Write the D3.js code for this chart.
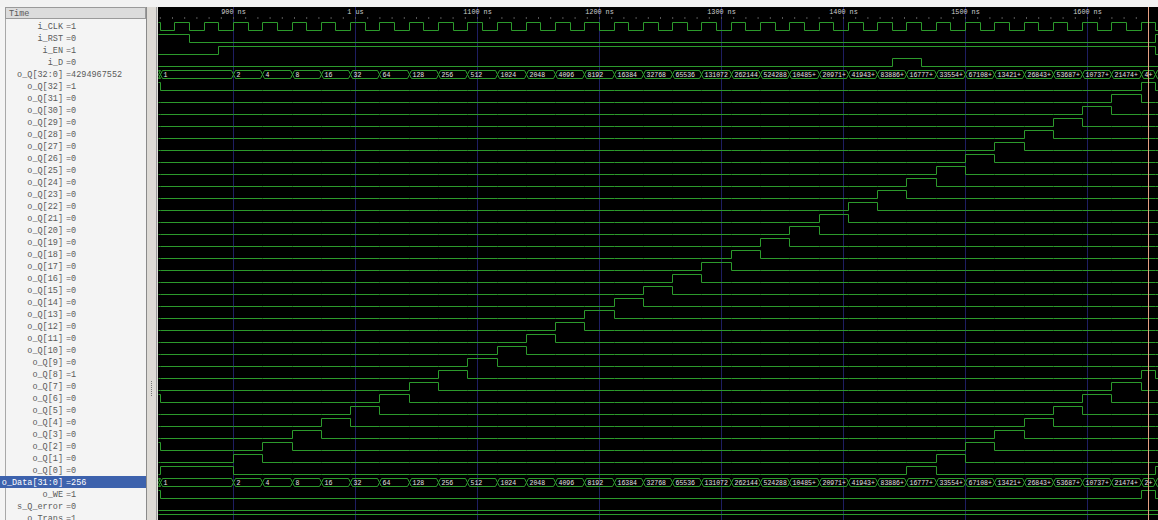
<!DOCTYPE html>
<html>
<head>
<meta charset="utf-8">
<script src="https://cdn.jsdelivr.net/npm/d3@7"></script>
<style>
  html, body { margin: 0; padding: 0; background: #fff; overflow: hidden; }
  .lbl { font-family: 'Liberation Mono', monospace; font-size: 8.5px; fill: #5a5a5a; }
  .bus { font-family: 'Liberation Mono', monospace; font-size: 6.5px; fill: #e4e4e4; }
  .axis text { font-family: 'Liberation Mono', monospace; font-size: 6.8px; fill: #cfcfcf; }
</style>
</head>
<body>
<div class="chart"></div>
<script>
// ---- data (times in ns) ----
var majorTicks = [900, 1000, 1100, 1200, 1300, 1400, 1500, 1600];
var tickLabels = ['900 ns', '1 us', '1100 ns', '1200 ns', '1300 ns', '1400 ns', '1500 ns', '1600 ns'];

var clkInit = 1;
var clkToggles = [840, 852, 864, 876, 888, 900, 912, 924, 936, 948, 960, 972, 984, 996, 1008, 1020,
  1032, 1044, 1056, 1068, 1080, 1092, 1104, 1116, 1128, 1140, 1152, 1164, 1176, 1188, 1200, 1212,
  1224, 1236, 1248, 1260, 1272, 1284, 1296, 1308, 1320, 1332, 1344, 1356, 1368, 1380, 1392, 1404,
  1416, 1428, 1440, 1452, 1464, 1476, 1488, 1500, 1512, 1524, 1536, 1548, 1560, 1572, 1584, 1596,
  1608, 1620, 1632, 1644, 1656];

var rstInit = 1, rstToggles = [864, 1656];
var enInit = 0, enToggles = [888, 1656];
var dInit = 0, dToggles = [1440, 1464];

// o_Q[32:0] register contents
var qInit = 4294967364;
var qTimes = [840, 900, 924, 948, 972, 996, 1020, 1044, 1068, 1092, 1116, 1140, 1164, 1188, 1212,
  1236, 1260, 1284, 1308, 1332, 1356, 1380, 1404, 1428, 1452, 1476, 1500, 1524, 1548, 1572, 1596,
  1620, 1644, 1656];
var qValues = [1, 2, 4, 8, 16, 32, 64, 128, 256, 512, 1024, 2048, 4096, 8192, 16384, 32768, 65536,
  131072, 262144, 524288, 1048576, 2097152, 4194304, 8388608, 16777217, 33554434, 67108868,
  134217736, 268435472, 536870944, 1073741888, 2147483776, 4294967552, 1];

var weInit = 1, weToggles = [840, 1644, 1656];
var errInit = 0, errToggles = [];
var trInit = 1, trToggles = [];

var cursorTime = 1650;

// ---- layout ----
var W = 1158, H = 520;
var waveLeft = 158, panelRight = 146;
var rowTop0 = 20, rowH = 12;

var svg = d3.select('.chart')
  .append('svg')
    .attr('width', W)
    .attr('height', H)
    .style('display', 'block');

var x = d3.scaleLinear().domain([900, 1600]).range([233, 1087]);
var tStart = x.invert(waveLeft), tEnd = x.invert(W + 2);

// rows
var rows = [];
function addRow(name, kind, init, changes) { rows.push({ name: name, kind: kind, init: init, changes: changes }); }
function toggleList(init, toggles) {
  var v = init;
  return toggles.map(function (t) { v = 1 - v; return { t: t, v: v }; });
}
function bitOf(v, k) { return Math.floor(v / Math.pow(2, k)) % 2; }

addRow('i_CLK', 'bit', clkInit, toggleList(clkInit, clkToggles));
addRow('i_RST', 'bit', rstInit, toggleList(rstInit, rstToggles));
addRow('i_EN', 'bit', enInit, toggleList(enInit, enToggles));
addRow('i_D', 'bit', dInit, toggleList(dInit, dToggles));
addRow('o_Q[32:0]', 'bus', qInit, qTimes.map(function (t, i) { return { t: t, v: qValues[i] }; }));
d3.range(32, -1, -1).forEach(function (k) {
  addRow('o_Q[' + k + ']', 'bit', bitOf(qInit, k),
    qTimes.map(function (t, i) { return { t: t, v: bitOf(qValues[i], k) }; }));
});
addRow('o_Data[31:0]', 'bus', qInit % 4294967296,
  qTimes.map(function (t, i) { return { t: t, v: qValues[i] % 4294967296 }; }));
addRow('o_WE', 'bit', weInit, toggleList(weInit, weToggles));
addRow('s_Q_error', 'bit', errInit, toggleList(errInit, errToggles));
addRow('o_Trans', 'bit', trInit, toggleList(trInit, trToggles));

function valueAt(r, t) {
  var v = r.init;
  r.changes.forEach(function (c) { if (c.t <= t) v = c.v; });
  return v;
}

// ---- left name panel ----
svg.append('rect').attr('x', 0).attr('y', 0).attr('width', W).attr('height', 7).style('fill', '#f2f2f2');
svg.append('rect').attr('x', 0).attr('y', 7).attr('width', panelRight).attr('height', H - 7)
  .style('fill', '#f4f4f4');
svg.append('line').attr('x1', 5.5).attr('x2', 5.5).attr('y1', 7).attr('y2', H).style('stroke', '#a8a8a8');
svg.append('rect').attr('x', 5.5).attr('y', 7.5).attr('width', panelRight - 6).attr('height', 11)
  .style('fill', '#dcdcdc').style('stroke', '#9a9a9a');
svg.append('text').attr('class', 'lbl').attr('x', 9).attr('y', 16).text('Time');

var selRow = rows.findIndex(function (r) { return r.name === 'o_Data[31:0]'; });
svg.append('rect').attr('x', 0).attr('y', rowTop0 + selRow * rowH).attr('width', panelRight)
  .attr('height', rowH).style('fill', '#3d62ad');

var labels = svg.append('g');
rows.forEach(function (r, i) {
  var yb = rowTop0 + i * rowH + 9;
  var sel = i === selRow;
  labels.append('text').attr('class', 'lbl').attr('x', 63).attr('y', yb)
    .style('text-anchor', 'end').style('fill', sel ? '#fff' : null).text(r.name);
  labels.append('text').attr('class', 'lbl').attr('x', 66).attr('y', yb)
    .style('fill', sel ? '#fff' : null).text('=' + valueAt(r, cursorTime));
});
svg.append('line').attr('x1', panelRight + 0.5).attr('x2', panelRight + 0.5).attr('y1', 7).attr('y2', H)
  .style('stroke', '#8a8a8a');

// splitter
svg.append('rect').attr('x', panelRight + 1).attr('y', 7).attr('width', waveLeft - panelRight - 1)
  .attr('height', H - 7).style('fill', '#dedbd6');
svg.append('line').attr('x1', waveLeft - 1.5).attr('x2', waveLeft - 1.5).attr('y1', 7).attr('y2', H)
  .style('stroke', '#9c9c9c');
svg.append('g').selectAll('rect').data(d3.range(8)).join('rect')
  .attr('x', 151).attr('y', function (d) { return 381 + d * 2; })
  .attr('width', 1).attr('height', 1).style('fill', '#777');

// ---- waveform area ----
svg.append('defs').append('clipPath').attr('id', 'wclip')
  .append('rect').attr('x', waveLeft).attr('y', 7).attr('width', W - waveLeft).attr('height', H - 7);

var wave = svg.append('g').attr('clip-path', 'url(#wclip)');
wave.append('rect').attr('x', waveLeft).attr('y', 7).attr('width', W - waveLeft).attr('height', H - 7)
  .style('fill', '#000');

// grid
wave.append('g').selectAll('line').data(majorTicks).join('line')
  .attr('x1', function (d) { return Math.round(x(d)) + 0.5; })
  .attr('x2', function (d) { return Math.round(x(d)) + 0.5; })
  .attr('y1', 7).attr('y2', H)
  .style('stroke', '#1e1e62');

// time axis
var axis = d3.axisBottom(x).tickValues(majorTicks)
  .tickFormat(function (d, i) { return tickLabels[i]; }).tickSize(0).tickPadding(2);
var gAx = wave.append('g').attr('class', 'axis').attr('transform', 'translate(0,7)').call(axis);
gAx.select('.domain').remove();

var minorAxis = d3.axisTop(x).tickValues(d3.range(840, 1660, 10)).tickSize(2).tickFormat('');
var gMin = wave.append('g').attr('transform', 'translate(0,19)').call(minorAxis);
gMin.select('.domain').remove();
gMin.selectAll('line').style('stroke', '#555');

// signals
var green = '#2c9a2c';
var charW = 3.9;
function xs(t) { return Math.round(x(t)) + 0.5; }

rows.forEach(function (r, i) {
  var top = rowTop0 + i * rowH;
  var hi = top + 2.5, lo = top + 10.5, mid = top + 6.5;
  var pts = [{ t: tStart, v: r.init }].concat(r.changes).concat([{ t: tEnd, v: null }]);

  if (r.kind === 'bit') {
    var y = d3.scaleLinear().domain([0, 1]).range([lo, hi]);
    var line = d3.line().curve(d3.curveStepAfter)
      .x(function (d) { return xs(d.t); })
      .y(function (d, j) { return y(d.v === null ? pts[j - 1].v : d.v); });
    wave.append('path').attr('d', line(pts))
      .style('fill', 'none').style('stroke', green).style('stroke-width', 1);
  } else {
    var segs = pts.slice(0, -1).map(function (d, j) { return { t0: d.t, t1: pts[j + 1].t, v: d.v }; });
    var g = wave.append('g');
    g.selectAll('path').data(segs).join('path')
      .attr('d', function (s) {
        var a = xs(s.t0), b = xs(s.t1);
        var p = d3.path();
        p.moveTo(a, mid); p.lineTo(a + 2, hi); p.lineTo(b - 2, hi); p.lineTo(b, mid);
        p.lineTo(b - 2, lo); p.lineTo(a + 2, lo); p.closePath();
        return p.toString();
      })
      .style('fill', 'none').style('stroke', green).style('stroke-width', 1);
    g.selectAll('text').data(segs).join('text')
      .attr('class', 'bus')
      .attr('x', function (s) { return xs(s.t0) + 3; })
      .attr('y', mid + 2.5)
      .text(function (s) {
        var w = xs(s.t1) - xs(s.t0) - 4;
        var n = Math.floor(w / charW);
        var str = String(s.v);
        if (n < 1) return '';
        return str.length > n ? str.slice(0, Math.max(n - 1, 1)) + '+' : str;
      });
  }
});

// cursor
wave.append('line').attr('x1', xs(cursorTime)).attr('x2', xs(cursorTime)).attr('y1', 7).attr('y2', H)
  .style('stroke', '#e6a184');
</script>
</body>
</html>
